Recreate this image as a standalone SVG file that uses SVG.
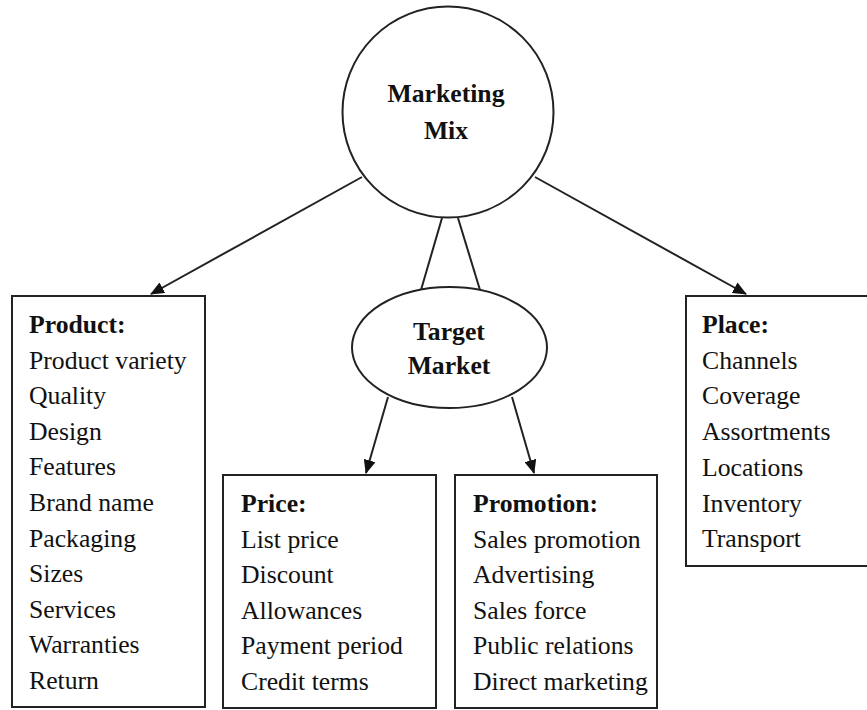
<svg xmlns="http://www.w3.org/2000/svg" width="867" height="710" viewBox="0 0 867 710">
<style>
text{font-family:"Liberation Serif","Times New Roman",serif;font-size:25.7px;fill:#111}
.b{font-weight:bold}
.c{text-anchor:middle}
.shape{fill:#fff;stroke:#222;stroke-width:2}
.conn line{stroke:#222;stroke-width:2}
</style>
<defs>
<marker id="ah" markerUnits="userSpaceOnUse" markerWidth="14" markerHeight="12" refX="13" refY="6" orient="auto">
<path d="M0,0 L14,6 L0,12 z" fill="#111"/>
</marker>
</defs>
<rect width="867" height="710" fill="#fff"/>
<g class="conn" id="connectors">
<line x1="362" y1="177" x2="151" y2="294" marker-end="url(#ah)"/>
<line x1="535" y1="177" x2="746" y2="294" marker-end="url(#ah)"/>
<line x1="442" y1="218" x2="421" y2="290"/>
<line x1="458" y1="218" x2="480" y2="290"/>
<line x1="388" y1="397" x2="366" y2="473" marker-end="url(#ah)"/>
<line x1="512" y1="397" x2="534" y2="473" marker-end="url(#ah)"/>
</g>
<g id="marketing-mix">
<circle class="shape" cx="448" cy="112" r="105.5"/>
<text class="b c" x="446" y="102">Marketing</text>
<text class="b c" x="446" y="139">Mix</text>
</g>
<g id="target-market">
<ellipse class="shape" cx="449.5" cy="347.5" rx="97.5" ry="60.5"/>
<text class="b c" x="449" y="340">Target</text>
<text class="b c" x="449" y="374">Market</text>
</g>
<g id="product">
<rect class="shape" x="12" y="296" width="193" height="411"/>
<text x="29" y="333"><tspan class="b">Product:</tspan><tspan x="29" dy="35.6">Product variety</tspan><tspan x="29" dy="35.6">Quality</tspan><tspan x="29" dy="35.6">Design</tspan><tspan x="29" dy="35.6">Features</tspan><tspan x="29" dy="35.6">Brand name</tspan><tspan x="29" dy="35.6">Packaging</tspan><tspan x="29" dy="35.6">Sizes</tspan><tspan x="29" dy="35.6">Services</tspan><tspan x="29" dy="35.6">Warranties</tspan><tspan x="29" dy="35.6">Return</tspan></text>
</g>
<g id="price">
<rect class="shape" x="223" y="475" width="213" height="233"/>
<text x="241" y="512"><tspan class="b">Price:</tspan><tspan x="241" dy="35.5">List price</tspan><tspan x="241" dy="35.5">Discount</tspan><tspan x="241" dy="35.5">Allowances</tspan><tspan x="241" dy="35.5">Payment period</tspan><tspan x="241" dy="35.5">Credit terms</tspan></text>
</g>
<g id="promotion">
<rect class="shape" x="455" y="475" width="202" height="233"/>
<text x="473" y="512"><tspan class="b">Promotion:</tspan><tspan x="473" dy="35.5">Sales promotion</tspan><tspan x="473" dy="35.5">Advertising</tspan><tspan x="473" dy="35.5">Sales force</tspan><tspan x="473" dy="35.5">Public relations</tspan><tspan x="473" dy="35.5">Direct marketing</tspan></text>
</g>
<g id="place">
<rect class="shape" x="686" y="296" width="190" height="270"/>
<text x="702" y="333"><tspan class="b">Place:</tspan><tspan x="702" dy="35.7">Channels</tspan><tspan x="702" dy="35.7">Coverage</tspan><tspan x="702" dy="35.7">Assortments</tspan><tspan x="702" dy="35.7">Locations</tspan><tspan x="702" dy="35.7">Inventory</tspan><tspan x="702" dy="35.7">Transport</tspan></text>
</g>
</svg>
